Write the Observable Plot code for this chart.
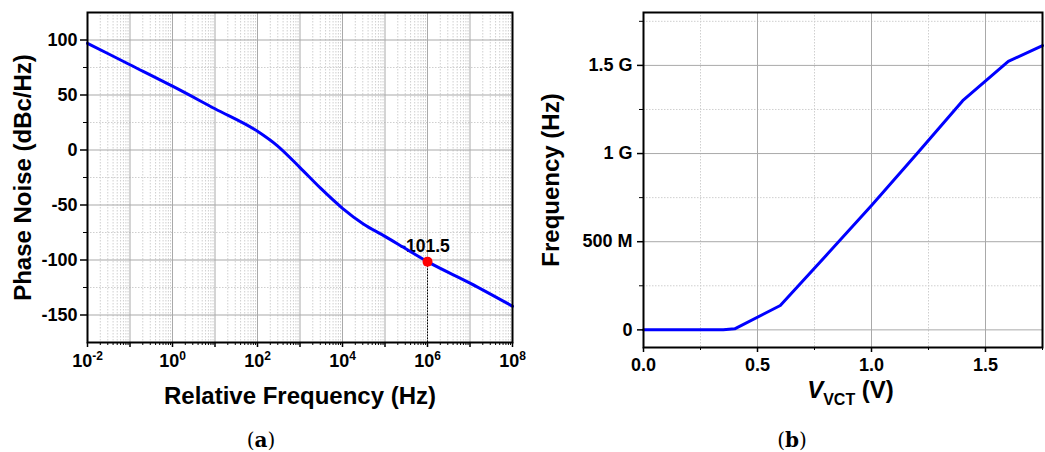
<!DOCTYPE html>
<html>
<head>
<meta charset="utf-8">
<script src="https://cdn.jsdelivr.net/npm/d3@7"></script>
<script src="https://cdn.jsdelivr.net/npm/@observablehq/plot@0.6"></script>
<style>
  html, body { margin: 0; padding: 0; background: #fff; }
  #wrap { position: relative; width: 1045px; height: 452px; overflow: hidden; background: #fff; }
  #wrap svg { position: absolute; top: 0; }
  .cap { position: absolute; width: 60px; text-align: center; font-family: 'DejaVu Serif', serif; font-size: 20px; line-height: 20px; color: #000; }
</style>
</head>
<body>
<div id="wrap"></div>
<script>
// ---------- Panel (a): phase noise ----------
const freqA  = [0.01, 0.1, 1, 10, 100, 290, 1000, 3000, 1e4, 31600, 1e5, 330000, 1e6, 1e7, 1e8];
const noiseA = [97, 77.5, 58, 37.5, 17, 4, -16, -34.5, -53, -67.5, -78.5, -90.5, -101.5, -121, -142];
const markerA = [{f: 1e6, pn: -101.5, label: "-101.5"}];
const xMajorA = [1e-2, 1e-1, 1, 10, 100, 1e3, 1e4, 1e5, 1e6, 1e7, 1e8];
const xLabelTicksA = [1e-2, 1, 100, 1e4, 1e6, 1e8];
const xLabelExpA = ["-2", "0", "2", "4", "6", "8"];
const minorMult = [2, 3, 4, 5, 6, 7, 8, 9];
const yMajorA = [-150, -100, -50, 0, 50, 100];
const yMinorA = [-125, -75, -25, 25, 75];

// ---------- Panel (b): tuning curve ----------
const vctB  = [0, 0.2, 0.35, 0.4, 0.6, 0.8, 1.0, 1.2, 1.4, 1.6, 1.75];
const freqB = [0, 0, 0, 0.006e9, 0.138e9, 0.421e9, 0.705e9, 1.0e9, 1.3e9, 1.523e9, 1.612e9];
const xMajorB = [0, 0.5, 1.0, 1.5];
const xMajorLabelsB = ["0.0", "0.5", "1.0", "1.5"];
const xMinorB = [0.25, 0.75, 1.25, 1.75];
const yMajorB = [0, 5e8, 1e9, 1.5e9];
const yMajorLabelsB = ["0", "500 M", "1 G", "1.5 G"];
const yMinorB = [2.5e8, 7.5e8, 1.25e9, 1.75e9];

const BLUE = "#0000ff", MAJ = "#a9a9a9", MIN = "#cfcfcf";
const baseStyle = {fontFamily: "'Liberation Sans', Arial, sans-serif", fontWeight: "bold", fontSize: "18px", background: "transparent", overflow: "visible", color: "#000"};

const xMinorA = xMajorA.slice(0, -1).flatMap(d => minorMult.map(m => d * m));
const tableA = freqA.map((f, i) => ({f, pn: noiseA[i]}));
const xLabMapA = new Map(xLabelTicksA.map((d, i) => [d, "10^" + xLabelExpA[i]]));

const left = Plot.plot({
  width: 520, height: 452,
  marginLeft: 87, marginRight: 8, marginTop: 12, marginBottom: 110,
  style: baseStyle,
  x: {type: "log", domain: [1e-2, 1e8], label: null},
  y: {domain: [-175, 125], label: null},
  marks: [
    Plot.gridX(xMinorA, {stroke: MIN, strokeOpacity: 1, strokeDasharray: "1.5,1.5"}),
    Plot.gridY(yMinorA, {stroke: MIN, strokeOpacity: 1, strokeDasharray: "1.5,1.5"}),
    Plot.gridX(xMajorA, {stroke: MAJ, strokeOpacity: 1}),
    Plot.gridY(yMajorA, {stroke: MAJ, strokeOpacity: 1}),
    Plot.text(markerA, {x: "f", y: "pn", text: "label", dy: -9.5, dx: -2.5, lineAnchor: "bottom", fontSize: 17.5, fontWeight: "bold"}),
    Plot.line(tableA, {x: "f", y: "pn", stroke: BLUE, strokeWidth: 3, curve: "monotone-x"}),
    Plot.ruleX(markerA, {x: "f", y1: -175, y2: "pn", stroke: "#000", strokeWidth: 1, strokeDasharray: "1.5,1.5"}),
    Plot.dot(markerA, {x: "f", y: "pn", r: 5, fill: "#ff0000", stroke: "none"}),
    Plot.axisX(xMajorA, {tickSize: 5, tickPadding: 7, strokeWidth: 1.5, fontSize: 18, tickFormat: d => xLabMapA.get(d) ?? ""}),
    Plot.axisX(xMinorA, {tickSize: 3, strokeWidth: 1, tickFormat: () => ""}),
    Plot.axisY(yMajorA, {tickSize: 7, tickPadding: 3, strokeWidth: 1.5, fontSize: 18, tickFormat: d => String(d)}),
    Plot.axisY(yMinorA, {tickSize: 4, strokeWidth: 1, tickFormat: () => ""}),
    Plot.frame({stroke: "#000", strokeWidth: 2}),
    Plot.text(["Relative Frequency (Hz)"], {text: d => d, frameAnchor: "bottom", dy: 61, lineAnchor: "bottom", fontSize: 24, fontWeight: "bold"}),
    Plot.text(["Phase Noise (dBc/Hz)"], {text: d => d, frameAnchor: "left", textAnchor: "middle", dx: -64, rotate: -90, fontSize: 24, fontWeight: "bold"})
  ]
});
left.style.left = "0px";

const tableB = vctB.map((v, i) => ({v, f: freqB[i]}));
const xLabMapB = new Map(xMajorB.map((d, i) => [d, xMajorLabelsB[i]]));
const yLabMapB = new Map(yMajorB.map((d, i) => [d, yMajorLabelsB[i]]));

const right = Plot.plot({
  width: 525, height: 452,
  marginLeft: 123, marginRight: 3, marginTop: 12, marginBottom: 105,
  style: baseStyle,
  x: {domain: [0, 1.75], label: null},
  y: {domain: [-1e8, 1.8e9], label: null},
  marks: [
    Plot.gridX(xMinorB, {stroke: MIN, strokeOpacity: 1, strokeDasharray: "1.5,1.5"}),
    Plot.gridY(yMinorB, {stroke: MIN, strokeOpacity: 1, strokeDasharray: "1.5,1.5"}),
    Plot.gridX(xMajorB, {stroke: MAJ, strokeOpacity: 1}),
    Plot.gridY(yMajorB, {stroke: MAJ, strokeOpacity: 1}),
    Plot.line(tableB, {x: "v", y: "f", stroke: BLUE, strokeWidth: 3}),
    Plot.axisX(xMajorB, {tickSize: 5, tickPadding: 6, strokeWidth: 1.5, fontSize: 18, tickFormat: d => xLabMapB.get(d)}),
    Plot.axisX(xMinorB, {tickSize: 3, strokeWidth: 1, tickFormat: () => ""}),
    Plot.axisY(yMajorB, {tickSize: 6, tickPadding: 5, strokeWidth: 1.5, fontSize: 18, tickFormat: d => yLabMapB.get(d)}),
    Plot.axisY(yMinorB, {tickSize: 4, strokeWidth: 1, tickFormat: () => ""}),
    Plot.frame({stroke: "#000", strokeWidth: 2}),
    Plot.text(["V_VCT (V)"], {text: d => d, frameAnchor: "bottom", dy: 50, dx: 7.5, lineAnchor: "bottom", fontSize: 24, fontWeight: "bold"}),
    Plot.text(["Frequency (Hz)"], {text: d => d, frameAnchor: "left", textAnchor: "middle", dx: -92, rotate: -90, fontSize: 24, fontWeight: "bold"})
  ]
});
right.style.left = "520px";

const wrap = document.getElementById("wrap");
wrap.appendChild(left);
wrap.appendChild(right);

// superscript exponents on the log axis
left.querySelectorAll("text").forEach(t => {
  const s = t.textContent;
  if (s.startsWith("10^")) {
    const exp = s.slice(3);
    while (t.firstChild) t.removeChild(t.firstChild);
    const ns = "http://www.w3.org/2000/svg";
    const a = document.createElementNS(ns, "tspan"); a.textContent = "10";
    const b = document.createElementNS(ns, "tspan"); b.textContent = exp;
    b.setAttribute("font-size", "12"); b.setAttribute("dy", "-7");
    t.appendChild(a); t.appendChild(b);
  }
});
// subscript in V_VCT
right.querySelectorAll("text").forEach(t => {
  if (t.textContent === "V_VCT (V)") {
    while (t.firstChild) t.removeChild(t.firstChild);
    const ns = "http://www.w3.org/2000/svg";
    const a = document.createElementNS(ns, "tspan"); a.textContent = "V"; a.setAttribute("font-style", "italic");
    const b = document.createElementNS(ns, "tspan"); b.textContent = "VCT"; b.setAttribute("font-size", "16"); b.setAttribute("dy", "7");
    const c = document.createElementNS(ns, "tspan"); c.textContent = "\u00a0(V)"; c.setAttribute("dy", "-7");
    t.appendChild(a); t.appendChild(b); t.appendChild(c);
  }
});

// panel captions
[["a", 261], ["b", 792]].forEach(([k, cx]) => {
  const d = document.createElement("div");
  d.className = "cap";
  d.style.left = (cx - 30) + "px";
  d.style.top = "430px";
  d.innerHTML = "(<b>" + k + "</b>)";
  wrap.appendChild(d);
});
</script>
</body>
</html>
